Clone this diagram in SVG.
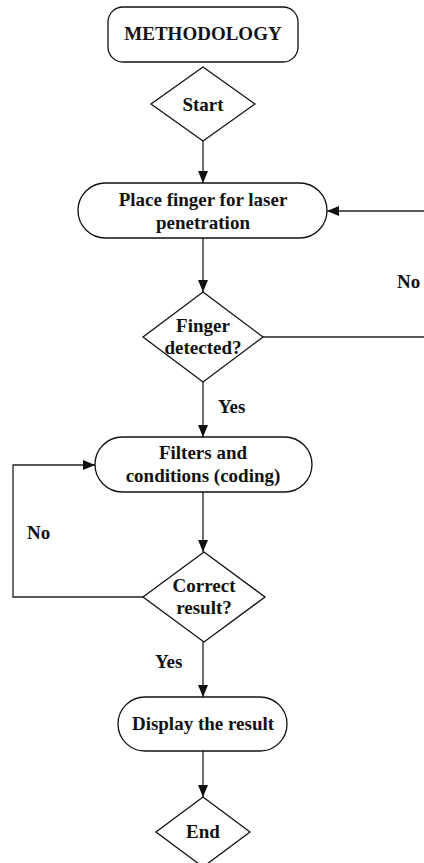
<svg xmlns="http://www.w3.org/2000/svg" width="424" height="863" viewBox="0 0 424 863">
<defs>
<marker id="arr" viewBox="0 0 12 10" refX="12" refY="5" markerWidth="12" markerHeight="10" markerUnits="userSpaceOnUse" orient="auto">
<path d="M0,0 L12,5 L0,10 Z" fill="#111"/>
</marker>
<style>
.s{fill:#fff;stroke:#111;stroke-width:1.3}
.c{fill:none;stroke:#222;stroke-width:1.3}
text{font-family:"Liberation Serif","Times New Roman",serif;font-weight:bold;font-size:19px;fill:#111}
.m{text-anchor:middle}
</style>
</defs>
<rect width="424" height="863" fill="#fff"/>
<g id="connectors">
<path class="c" d="M203,140 V183" marker-end="url(#arr)"/>
<path class="c" d="M424,211 H327" marker-end="url(#arr)"/>
<path class="c" d="M203,238 V292" marker-end="url(#arr)"/>
<path class="c" d="M263,337 H424"/>
<path class="c" d="M203,382 V437" marker-end="url(#arr)"/>
<path class="c" d="M143,597 H13 V465 H95" marker-end="url(#arr)"/>
<path class="c" d="M203,492 V552" marker-end="url(#arr)"/>
<path class="c" d="M203,642 V697" marker-end="url(#arr)"/>
<path class="c" d="M203,751 V797" marker-end="url(#arr)"/>
<text x="397" y="288">No</text>
<text x="218" y="413">Yes</text>
<text x="27" y="539">No</text>
<text x="155" y="668">Yes</text>
</g>
<g id="methodology">
<rect class="s" x="108" y="7" width="190" height="55" rx="15"/>
<text class="m" x="203" y="40">METHODOLOGY</text>
</g>
<g id="start">
<polygon class="s" points="203,67 255,104 203,141 151,104"/>
<text class="m" x="203" y="111">Start</text>
</g>
<g id="place">
<rect class="s" x="78" y="183" width="249" height="55" rx="27.5"/>
<text class="m" x="203" y="206">Place finger for laser</text>
<text class="m" x="203" y="229">penetration</text>
</g>
<g id="finger">
<polygon class="s" points="203,292 263,337 203,382 143,337"/>
<text class="m" x="203" y="332">Finger</text>
<text class="m" x="203" y="354">detected?</text>
</g>
<g id="filters">
<rect class="s" x="95" y="437" width="217" height="55" rx="27.5"/>
<text class="m" x="203" y="459">Filters and</text>
<text class="m" x="203" y="482">conditions (coding)</text>
</g>
<g id="correct">
<polygon class="s" points="204,552 265,597 204,642 143,597"/>
<text class="m" x="204" y="592">Correct</text>
<text class="m" x="204" y="614">result?</text>
</g>
<g id="display">
<rect class="s" x="118" y="697" width="169" height="54" rx="27"/>
<text class="m" x="203" y="730">Display the result</text>
</g>
<g id="end">
<polygon class="s" points="203,797 250,832 203,867 156,832"/>
<text class="m" x="203" y="838">End</text>
</g>
</svg>
